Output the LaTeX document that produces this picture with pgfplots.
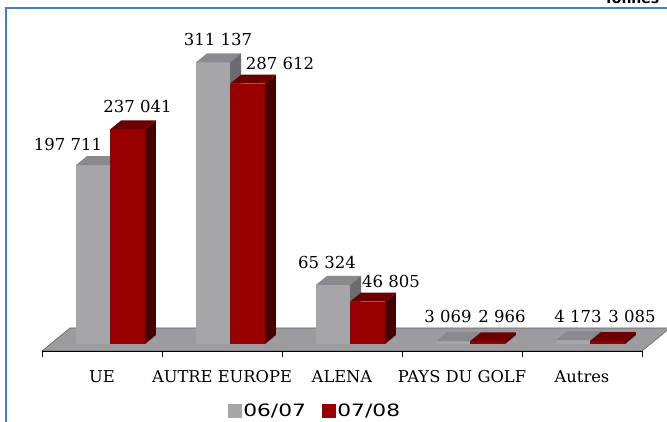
\documentclass[border=0pt]{standalone}
\usepackage{pgfplots}
\pgfplotsset{compat=1.18}
\usepackage{fontspec}
\setmainfont{DejaVu Serif}
\newfontfamily\legfont[FakeStretch=1.28]{DejaVu Sans}
\newfontfamily\tonfont{DejaVu Sans}
\definecolor{gF}{RGB}{166,166,170}
\definecolor{gT}{RGB}{138,138,142}
\definecolor{gS}{RGB}{108,108,112}
\definecolor{rF}{RGB}{150,0,0}
\definecolor{rT}{RGB}{108,0,0}
\definecolor{rS}{RGB}{68,0,0}
\definecolor{floorc}{RGB}{155,155,160}
\definecolor{frameblue}{RGB}{74,126,187}
% 3D bar: #1 left x, #2 right x, #3 value, #4 front, #5 top, #6 side
\newcommand\cube[6]{%
  \pgfmathsetmacro\xc{#1+0.0917}%
  \pgfmathsetmacro\xd{#2+0.0917}%
  \edef\yt{\the\numexpr#3+9945\relax}%
  \edef\tmp{%
   \noexpand\addplot[forget plot, fill=#4, draw=none] coordinates {(#1,0) (#2,0) (#2,#3) (#1,#3)};
   \noexpand\addplot[forget plot, fill=#5, draw=none] coordinates {(#1,#3) (#2,#3) (\xd,\yt) (\xc,\yt)};
   \noexpand\addplot[forget plot, fill=#6, draw=none] coordinates {(#2,0) (\xd,9945) (\xd,\yt) (#2,#3)};
  }\tmp}
\begin{document}
\begin{tikzpicture}
\useasboundingbox (0,0) rectangle (667pt,422pt);
\draw[frameblue, line width=2.5pt] (6pt,-40pt) -- (6pt,414pt) -- (720pt,414pt);
\node[anchor=base west, inner sep=0, font=\tonfont\bfseries\fontsize{14}{14}\selectfont] at (604pt,418.5pt) {Tonnes};
\begin{axis}[
  at={(42pt,71pt)}, anchor=south west,
  scale only axis, width=600pt, height=311pt,
  xmin=-0.5, xmax=4.5, ymin=-7735, ymax=335920,
  clip=false, axis on top,
  axis x line*=bottom, axis y line=none,
  x axis line style={black, line width=0.8pt},
  ytick=\empty,
  xtick={0,1,2,3,4},
  xticklabels={UE, AUTRE EUROPE, ALENA, PAYS DU GOLF, Autres},
  major tick length=0pt,
  minor xtick={-0.5,0.5,1.5,2.5,3.5,4.5},
  minor tick length=6pt, tick align=outside,
  minor tick style={black, line width=0.8pt},
  x tick label style={anchor=center, yshift=-26pt, font=\fontsize{16.3}{16.3}\selectfont},
  legend style={at={(0.455,-0.193)}, anchor=center, draw=none, fill=none,
    font=\legfont\fontsize{17}{17}\selectfont, legend columns=2,
    /tikz/every even column/.append style={column sep=14pt}},
]
% floor
\addplot[forget plot, fill=floorc, draw=black!60, line width=0.6pt] coordinates {(-0.5,-7735) (-0.267,17680) (4.733,17680) (4.5,-7735)} --cycle;
% UE
\cube{-0.217}{0.067}{197711}{gF}{gT}{gS}
\cube{0.067}{0.358}{237041}{rF}{rT}{rS}
% AUTRE EUROPE
\cube{0.783}{1.067}{311137}{gF}{gT}{gS}
\cube{1.067}{1.358}{287612}{rF}{rT}{rS}
% ALENA
\cube{1.783}{2.067}{65324}{gF}{gT}{gS}
\cube{2.067}{2.358}{46805}{rF}{rT}{rS}
% PAYS DU GOLF
\cube{2.783}{3.067}{3069}{gF}{gT}{gS}
\cube{3.067}{3.358}{2966}{rF}{rT}{rS}
% Autres
\cube{3.783}{4.067}{4173}{gF}{gT}{gS}
\cube{4.067}{4.358}{3085}{rF}{rT}{rS}
% data labels
\addplot[forget plot, draw=none, nodes near coords, point meta=explicit symbolic,
  nodes near coords style={anchor=center, inner sep=0pt, font=\fontsize{16.5}{16.5}\selectfont}]
  table[col sep=comma, row sep=\\, meta=label] {
  x,y,label\\
  -0.283,220448,197 711\\
  0.296,261885,237 041\\
  0.967,336473,311 137\\
  1.483,309400,287 612\\
  1.875,90610,65 324\\
  2.408,69063,46 805\\
  2.883,30940,3 069\\
  3.333,30940,2 966\\
  3.967,30940,4 173\\
  4.417,30940,3 085\\
  };
\addlegendimage{legend image code/.code={\fill[gF] (0pt,-6.5pt) rectangle (13pt,6.5pt);}}
\addlegendentry{06/07}
\addlegendimage{legend image code/.code={\fill[rF] (0pt,-6.5pt) rectangle (13pt,6.5pt);}}
\addlegendentry{07/08}
\end{axis}
\end{tikzpicture}
\end{document}
